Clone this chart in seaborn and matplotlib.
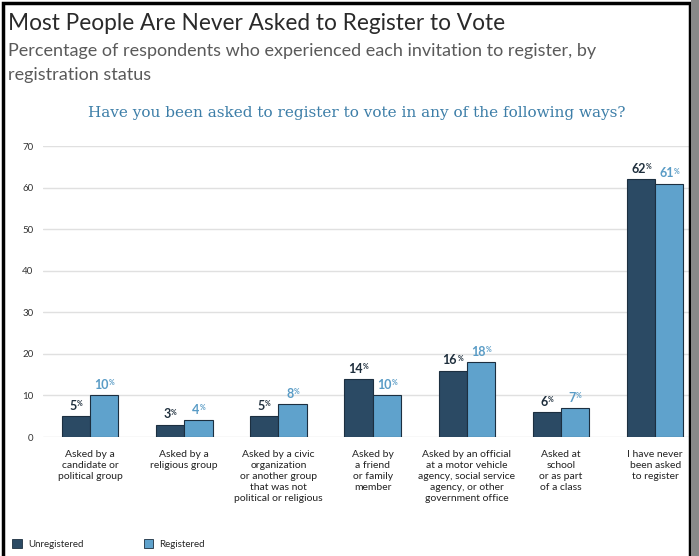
import numpy as np
import pandas as pd
import matplotlib
matplotlib.use('Agg')
import matplotlib.pyplot as plt
import seaborn as sns
from matplotlib.patches import Rectangle, Patch

sns.set_style('white')
plt.rcParams['font.family'] = ['Lato', 'DejaVu Sans']

# Data
categories = [
    'Asked by a\ncandidate or\npolitical group',
    'Asked by a\nreligious group',
    'Asked by a civic\norganization\nor another group\nthat was not\npolitical or religious',
    'Asked by\na friend\nor family\nmember',
    'Asked by an official\nat a motor vehicle\nagency, social service\nagency, or other\ngovernment office',
    'Asked at\nschool\nor as part\nof a class',
    'I have never\nbeen asked\nto register',
]
unregistered = [5, 3, 5, 14, 16, 6, 62]
registered = [10, 4, 8, 10, 18, 7, 61]
groups = ['Unregistered', 'Registered']
colors = ['#2b4a64', '#5fa2cc']

df = pd.DataFrame({
    'category': categories * 2,
    'status': [groups[0]] * len(categories) + [groups[1]] * len(categories),
    'value': unregistered + registered,
})

fig = plt.figure(figsize=(6.99, 5.56), dpi=100)
ax = fig.add_axes([0.0615, 0.214, 0.927, 0.523])

sns.barplot(data=df, x='category', y='value', hue='status', palette=colors,
            width=0.6, edgecolor='#1c2f40', linewidth=0.8, saturation=1,
            legend=False, ax=ax)

ax.set_ylim(0, 70)
ax.set_yticks(range(0, 71, 10))
ax.tick_params(axis='y', labelsize=7, colors='#333333', length=0, pad=7)
ax.tick_params(axis='x', labelsize=7.5, colors='#222222', length=0, pad=9)
for lab in ax.get_xticklabels():
    lab.set_linespacing(1.3)
ax.yaxis.grid(True, color='#e0e0e0', linewidth=1)
ax.set_axisbelow(True)
for s in ax.spines.values():
    s.set_visible(False)
ax.set_xlabel('')
ax.set_ylabel('')
ax.set_xlim(-0.5, 6.38)

# value labels
label_colors = ['#1f2f3d', '#5a9cc6']
for cont, lc in zip(ax.containers, label_colors):
    for bar in cont:
        h = bar.get_height()
        xc = bar.get_x() + bar.get_width() / 2
        ax.annotate(f'{int(h)}', (xc, h), xytext=(-2, 3), textcoords='offset points',
                    ha='center', va='bottom', fontsize=9, fontweight='bold', color=lc)
        n = len(str(int(h)))
        ax.annotate('%', (xc, h), xytext=(-2 + 2.7 * n + 2, 6.5), textcoords='offset points',
                    ha='center', va='bottom', fontsize=5, fontweight='bold', color=lc)

# titles
fig.text(0.012, 0.958, 'Most People Are Never Asked to Register to Vote', fontsize=16.3,
         color='#2a2a2a', va='center')
fig.text(0.012, 0.908, 'Percentage of respondents who experienced each invitation to register, by',
         fontsize=13, color='#5a5a5a', va='center')
fig.text(0.012, 0.866, 'registration status', fontsize=13,
         color='#5a5a5a', va='center')
fig.text(0.51, 0.797, 'Have you been asked to register to vote in any of the following ways?',
         fontsize=11, family=['DejaVu Serif'], color='#3d7ea8', ha='center', va='center')

# legend
handles = [Patch(facecolor=c, edgecolor='#1c2f40', linewidth=0.6) for c in colors]
fig.legend(handles, groups, loc='center left', bbox_to_anchor=(0.005, 0.022), ncol=2,
           frameon=False, fontsize=7, handlelength=1.0, handleheight=1.0,
           columnspacing=6.2, handletextpad=0.6)

# frame
fig.patches.append(Rectangle((0.004, -0.01), 0.983, 1.005, transform=fig.transFigure,
                             fill=False, edgecolor='black', linewidth=2.5))
fig.patches.append(Rectangle((0.989, 0.0), 0.011, 1.0, transform=fig.transFigure,
                             facecolor='#888888', edgecolor='none'))

fig.savefig('out.png', dpi=100)
